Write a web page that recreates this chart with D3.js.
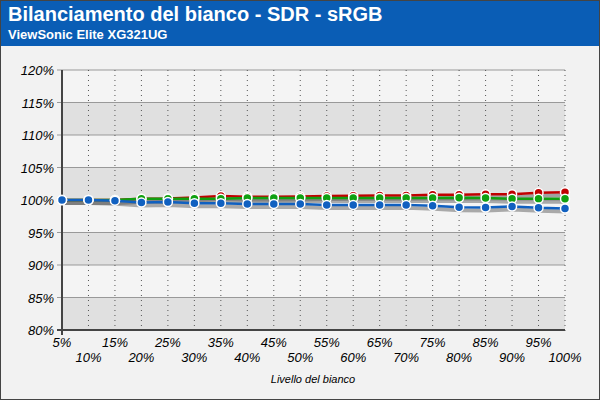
<!DOCTYPE html><html><head><script src="https://d3js.org/d3.v7.min.js"></script>
<style>body{margin:0}</style></head><body><svg width="600" height="400"></svg><script>
const levels=["5%","10%","15%","20%","25%","30%","35%","40%","45%","50%","55%","60%","65%","70%","75%","80%","85%","90%","95%","100%"];
const red=[100,100,100,100.2,100.25,100.4,100.6,100.5,100.5,100.55,100.6,100.65,100.7,100.7,100.8,100.8,100.9,100.9,101.1,101.2];
const green=[100,100,100,100.2,100.2,100.2,100.2,100.3,100.3,100.3,100.3,100.3,100.3,100.3,100.3,100.35,100.3,100.2,100.2,100.2];
const blue=[100,100,99.9,99.6,99.7,99.5,99.5,99.4,99.4,99.4,99.25,99.25,99.25,99.25,99.1,98.9,98.85,99.0,98.8,98.7];
const yTicks=[80,85,90,95,100,105,110,115,120];
const svg=d3.select("svg");
svg.append("rect").attr("width",600).attr("height",400).attr("fill","#f2f2f2");
svg.append("rect").attr("width",600).attr("height",46).attr("fill","#0a5db5");
svg.append("text").attr("x",8).attr("y",21).attr("fill","#fff").attr("font-family","Liberation Sans, Arial").attr("font-weight","bold").attr("font-size",20).text("Bilanciamento del bianco - SDR -  sRGB");
svg.append("text").attr("x",8).attr("y",39).attr("fill","#fff").attr("font-family","Liberation Sans, Arial").attr("font-weight","bold").attr("font-size",13).text("ViewSonic Elite XG321UG");
svg.append("rect").attr("x",0.5).attr("y",0.5).attr("width",599).attr("height",399).attr("fill","none").attr("stroke","#444");
const x=d3.scalePoint().domain(levels).range([62,565]);
const y=d3.scaleLinear().domain([80,120]).range([330,70]);
const g=svg.append("g");
g.append("rect").attr("x",62).attr("y",70).attr("width",503).attr("height",260).attr("fill","#f4f4f4");
[80,90,100,110].forEach(v=>g.append("rect").attr("x",62).attr("y",y(v+5)).attr("width",503).attr("height",y(v)-y(v+5)).attr("fill","#e0e0e0"));
yTicks.forEach(v=>g.append("line").attr("x1",57).attr("x2",565).attr("y1",y(v)).attr("y2",y(v)).attr("stroke","#999"));
levels.forEach((l,i)=>{if(i>0)g.append("line").attr("x1",x(l)).attr("x2",x(l)).attr("y1",70).attr("y2",335).attr("stroke","#555").attr("stroke-dasharray","1,4");
g.append("text").attr("x",x(l)).attr("y",i%2?362:347).attr("text-anchor","middle").attr("font-family","Liberation Sans, Arial").attr("font-style","italic").attr("font-size",13).text(l);});
g.append("line").attr("x1",62).attr("x2",62).attr("y1",70).attr("y2",335).attr("stroke","#444").attr("stroke-width",2);
g.append("line").attr("x1",57).attr("x2",565).attr("y1",330).attr("y2",330).attr("stroke","#444").attr("stroke-width",2);
yTicks.forEach(v=>g.append("text").attr("x",54).attr("y",y(v)+5).attr("text-anchor","end").attr("font-family","Liberation Sans, Arial").attr("font-style","italic").attr("font-size",13).text(v+"%"));
svg.append("text").attr("x",313).attr("y",383).attr("text-anchor","middle").attr("font-family","Liberation Sans, Arial").attr("font-style","italic").attr("font-size",11).text("Livello del bianco");
const line=d3.line().x((d,i)=>x(levels[i])).y(d=>y(d));
const series=[[red,"#c00000"],[green,"#10a010"],[blue,"#1060c0"]];
series.forEach(([s])=>g.append("path").attr("d",line(s)).attr("transform","translate(1,3)").attr("fill","none").attr("stroke","#777").attr("stroke-width",4).attr("opacity",0.6));
series.forEach(([s,c])=>{g.append("path").attr("d",line(s)).attr("fill","none").attr("stroke",c).attr("stroke-width",2.5);});
series.forEach(([s,c])=>{g.selectAll(null).data(s).enter().append("circle").attr("cx",(d,i)=>x(levels[i])).attr("cy",d=>y(d)).attr("r",4.5).attr("fill",c).attr("stroke","#fff").attr("stroke-width",1.5);});
</script></body></html>
